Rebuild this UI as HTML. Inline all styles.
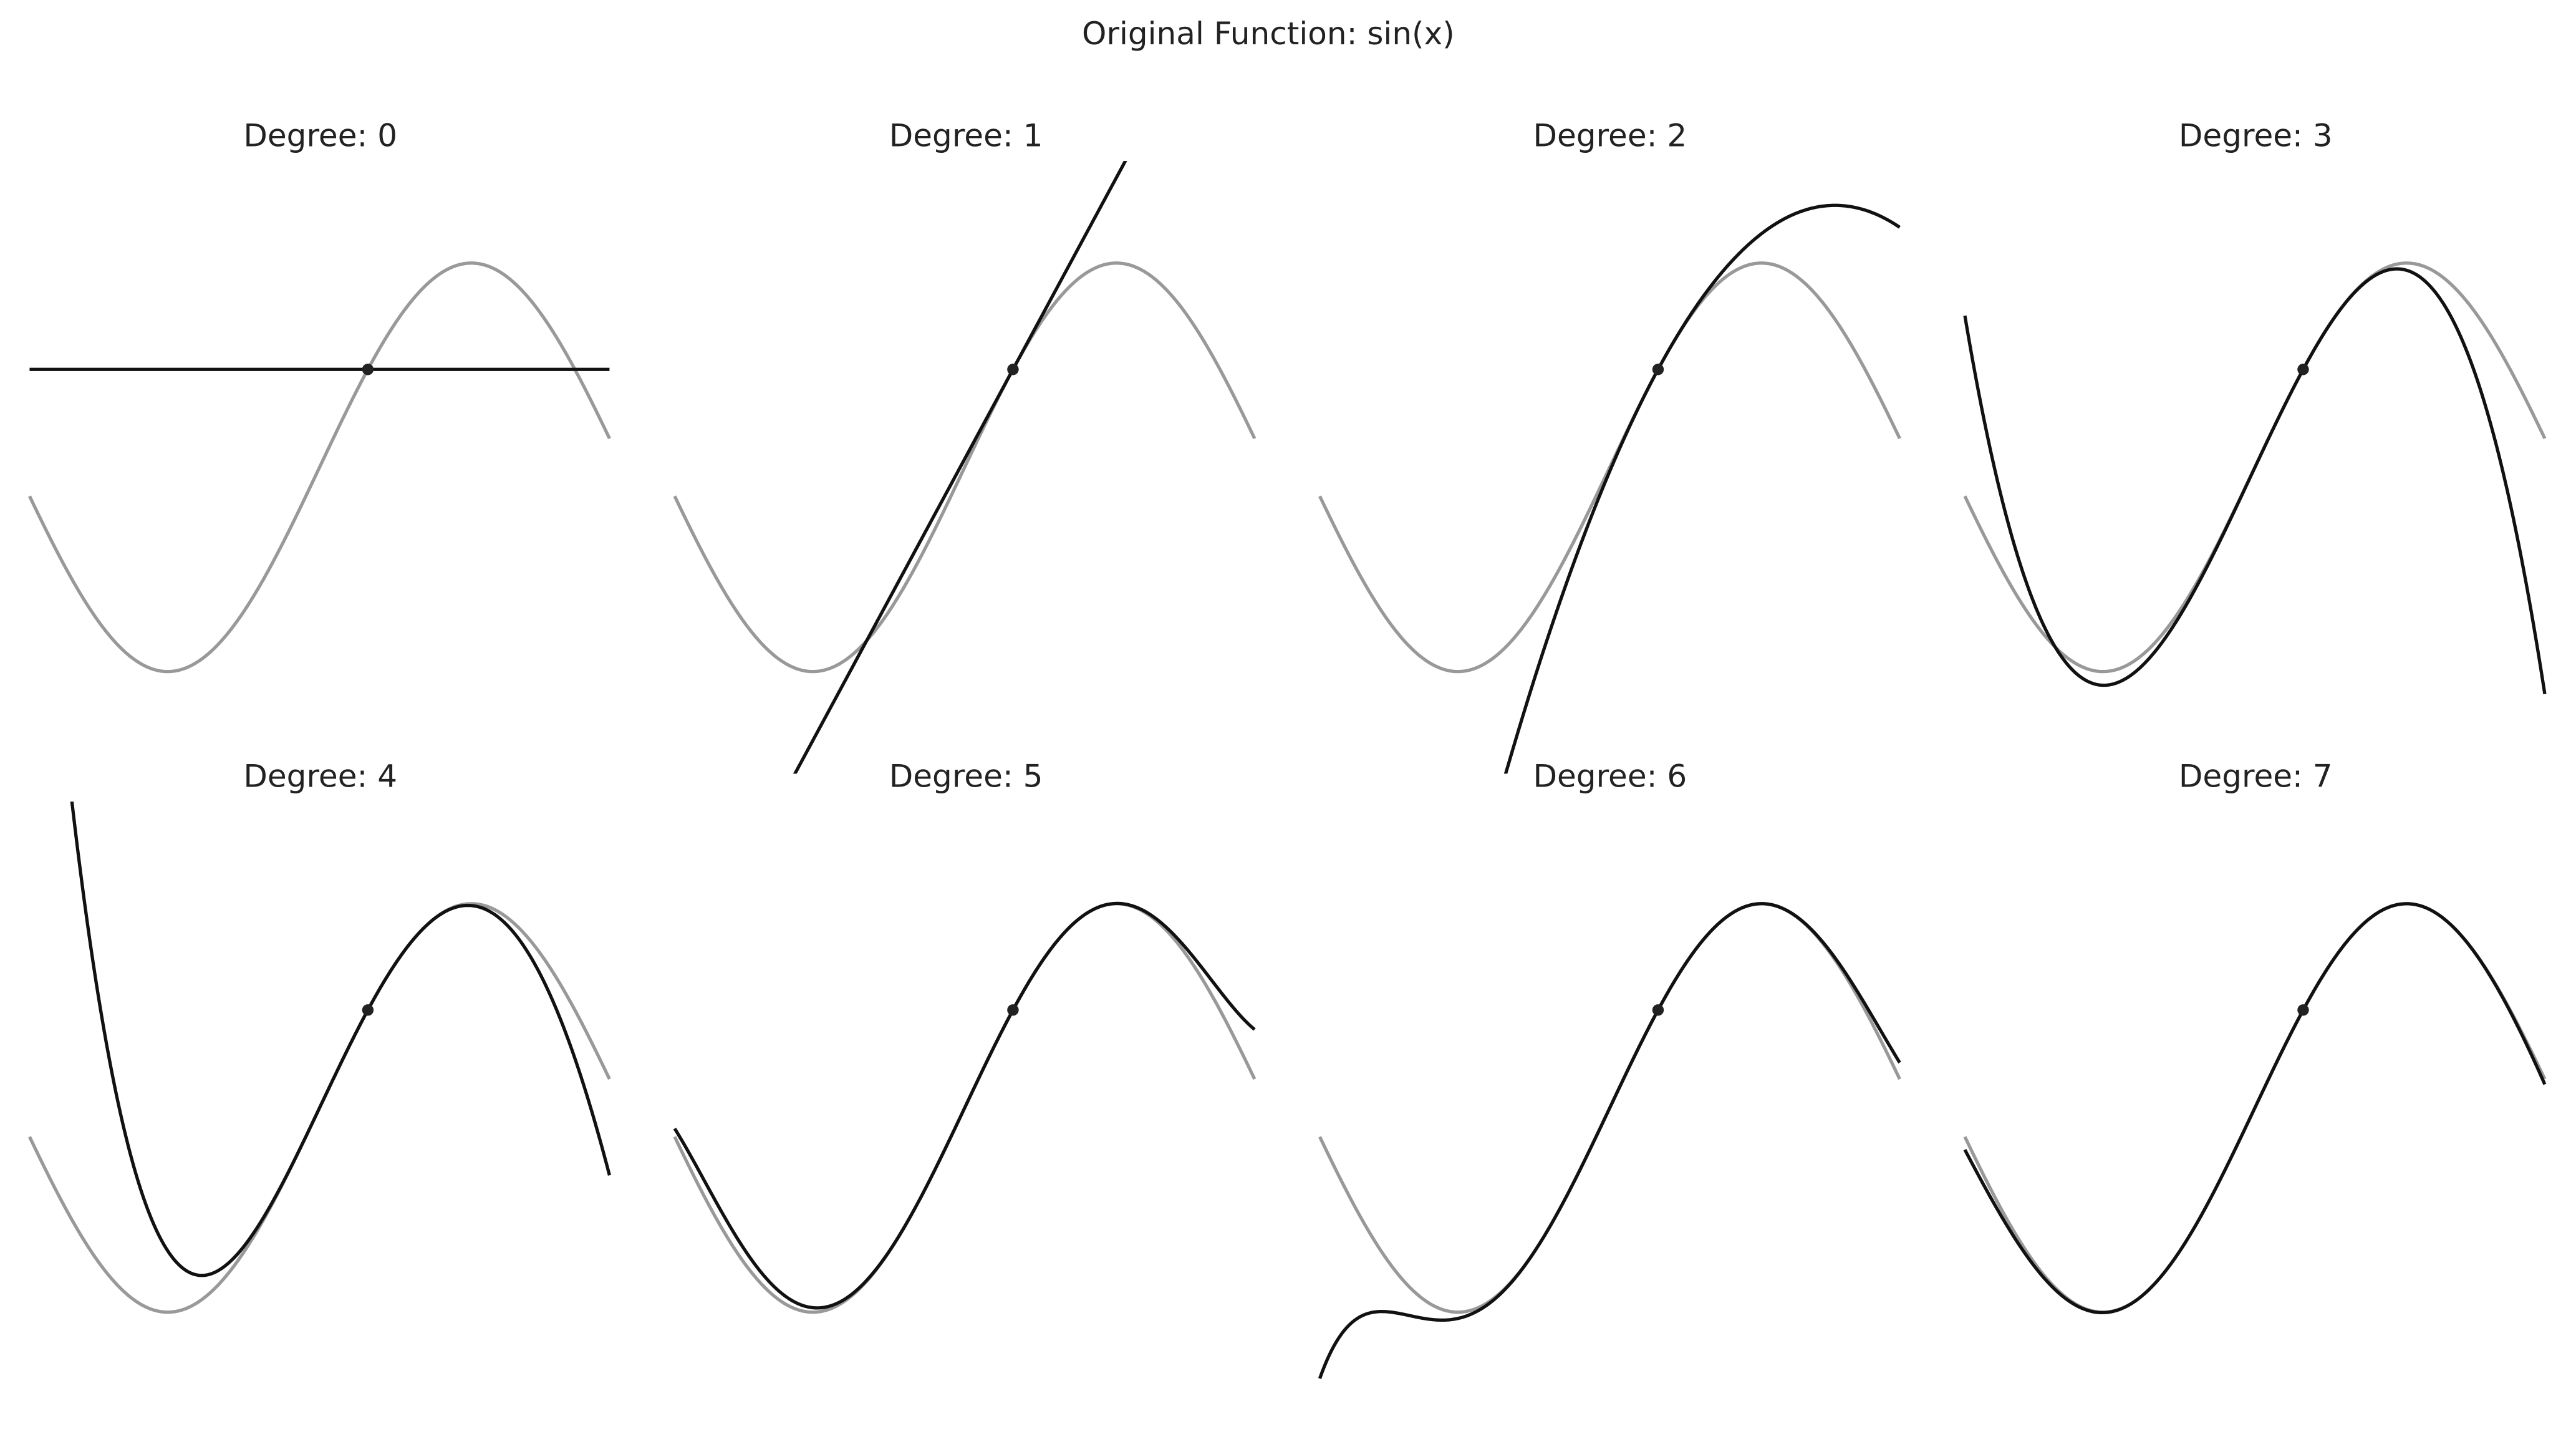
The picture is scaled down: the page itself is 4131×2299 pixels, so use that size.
<!DOCTYPE html>
<html><head><meta charset="utf-8"><style>
html,body{margin:0;padding:0;background:#fff;width:4131px;height:2299px;overflow:hidden;position:relative;}
svg{display:block;position:absolute;left:0;top:0;overflow:hidden;}
text{font-family:"DejaVu Sans","Liberation Sans",sans-serif;fill:#222;}
</style></head><body>
<svg id="s" width="4131" height="2299" viewBox="0 0 1568 873" preserveAspectRatio="none" overflow="hidden" xmlns="http://www.w3.org/2000/svg">
<text x="772" y="27" font-size="19" text-anchor="middle">Original Function: sin(x)</text>
<text x="195" y="89" font-size="19" text-anchor="middle">Degree: 0</text>
<text x="588" y="89" font-size="19" text-anchor="middle">Degree: 1</text>
<text x="980" y="89" font-size="19" text-anchor="middle">Degree: 2</text>
<text x="1373" y="89" font-size="19" text-anchor="middle">Degree: 3</text>
<text x="195" y="479" font-size="19" text-anchor="middle">Degree: 4</text>
<text x="588" y="479" font-size="19" text-anchor="middle">Degree: 5</text>
<text x="980" y="479" font-size="19" text-anchor="middle">Degree: 6</text>
<text x="1373" y="479" font-size="19" text-anchor="middle">Degree: 7</text>
<g id="g"></g>
</svg>
<script>
(function(){
var g=document.getElementById("g"),a=0.5,html="";
var d=[Math.sin(a),Math.cos(a),-Math.sin(a),-Math.cos(a)];
function T(n,x){var s=0,f=1,p=1;for(var k=0;k<=n;k++){if(k>0){f*=k;p*=(x-a);}s+=d[k%4]*p/f;}return s;}
for(var n=0;n<8;n++){
 var col=n%4,row=Math.floor(n/4);
 var x0=18+col*392.67,y0=98+row*390,W=353,H=373;
 function px(x){return x0+(x+3)/6*W;}
 function py(y){return y0+(1.5-y)/3*H;}
 var gp="",tp="";
 for(var i=0;i<=400;i++){var x=-3+6*i/400;
  gp+=(i?"L":"M")+px(x).toFixed(2)+","+py(Math.sin(x)).toFixed(2);
  var t=T(n,x);t=Math.max(-2,Math.min(2,t));
  tp+=(i?"L":"M")+px(x).toFixed(2)+","+py(t).toFixed(2);}
 html+='<clipPath id="c'+n+'"><rect x="'+(x0-5)+'" y="'+y0+'" width="'+(W+10)+'" height="'+H+'"/></clipPath>';
 html+='<g clip-path="url(#c'+n+')"><path d="'+gp+'" fill="none" stroke="#999" stroke-width="2"/>';
 html+='<path d="'+tp+'" fill="none" stroke="#111" stroke-width="2"/>';
 html+='<circle cx="'+px(a)+'" cy="'+py(Math.sin(a))+'" r="3.5" fill="#222"/></g>';
}
g.innerHTML=html;
})();
</script>
</body></html>
